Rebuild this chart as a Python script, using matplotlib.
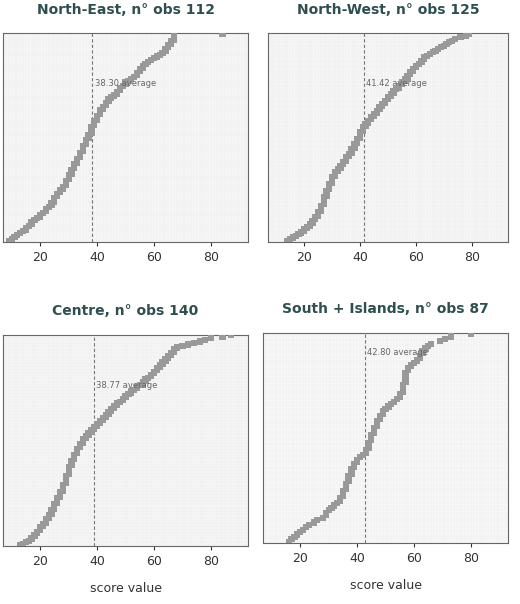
import matplotlib
matplotlib.use("Agg")
import matplotlib.pyplot as plt
import numpy as np

titles = ["North-East, n° obs 112", "North-West, n° obs 125", "Centre, n° obs 140", "South + Islands, n° obs 87"]
averages = [38.30, 41.42, 38.77, 42.80]

north_east = [9,10,11,12,13,14,15,15,16,17,17,18,19,20,20,21,22,22,23,24,
24,25,25,25,26,26,27,27,28,28,29,29,29,30,30,30,31,31,31,32,
32,32,33,33,33,34,34,34,35,35,35,35,36,36,36,37,37,37,38,38,
38,38,39,39,39,40,40,40,41,41,41,42,42,43,43,44,44,45,46,47,
47,48,48,49,50,50,51,52,53,54,54,55,55,56,56,57,58,59,60,61,
62,63,64,64,65,65,66,66,67,67,67,84]
north_west = [14,15,16,17,18,19,20,20,21,22,22,23,23,24,24,25,25,25,26,26,
26,26,27,27,27,27,27,28,28,28,28,29,29,29,29,30,30,30,30,31,
31,31,32,32,33,33,34,34,35,35,35,36,36,37,37,37,38,38,38,39,
39,39,40,40,40,40,41,41,41,42,42,43,43,44,44,45,45,46,46,47,
47,48,48,49,49,50,50,51,51,52,52,53,54,54,55,55,56,56,57,57,
58,58,59,59,60,60,61,62,62,63,63,64,65,66,67,68,69,70,71,72,
73,74,76,78,79]
centre = [13,14,15,16,17,17,18,18,19,19,20,20,20,21,21,22,22,22,23,23,
23,24,24,24,25,25,25,25,26,26,26,26,27,27,27,27,28,28,28,28,
28,29,29,29,29,29,29,30,30,30,30,30,30,31,31,31,31,32,32,32,
32,33,33,33,33,34,34,34,35,35,35,36,36,37,37,38,38,39,39,40,
40,41,41,42,42,43,43,44,44,45,45,46,46,47,47,48,49,49,50,50,
51,52,52,53,54,54,55,56,56,57,57,58,59,59,60,60,61,61,62,62,
63,63,64,64,65,65,66,66,67,67,67,68,70,72,74,76,78,80,84,87]
south = [16,17,18,19,20,21,22,23,25,26,28,29,29,30,31,32,33,34,34,35,
35,35,36,36,36,37,37,37,38,38,38,39,39,40,40,41,42,43,43,44,
44,44,45,45,45,46,46,46,47,47,47,48,48,49,49,50,51,52,53,54,
55,55,56,56,56,56,57,57,57,57,57,58,58,59,60,61,62,62,63,63,
64,65,66,69,71,73,80]
series = [north_east, north_west, centre, south]

fig = plt.figure(figsize=(5.2, 6.04), dpi=100)
boxes = [(0.006, 0.600, 0.471, 0.345), (0.515, 0.600, 0.462, 0.345),
         (0.006, 0.096, 0.471, 0.350), (0.506, 0.101, 0.471, 0.348)]
for i, (vals, title, avg, box) in enumerate(zip(series, titles, averages, boxes)):
    ax = fig.add_axes(box)
    v = np.sort(np.array(vals, dtype=float))
    n = len(v)
    ax.set_facecolor("#fafafa")
    for gx in np.arange(6, 95, 1.0):
        ax.axvline(gx, color="#ebebeb", lw=0.35, zorder=0)
    for gy in np.arange(0, n + 2, 1.0):
        ax.axhline(gy, color="#ebebeb", lw=0.35, zorder=0)
    ax.scatter(v, np.arange(1, n + 1), marker="s", s=20, color="#999999",
               edgecolors="none", zorder=3)
    ax.axvline(avg, color="#777777", lw=0.8, ls=(0, (3, 2)), zorder=2)
    ax.text(avg + 0.8, n * 0.75 if i != 3 else n * 0.9, f"{avg:.2f} average",
            fontsize=6, color="#666666", zorder=4)
    ax.set_xlim(7, 93)
    ax.set_ylim(0.5, n + 0.5)
    ax.set_yticks([])
    ax.set_xticks([20, 40, 60, 80])
    ax.tick_params(axis="x", labelsize=9, colors="#333333", length=3)
    for s in ax.spines.values():
        s.set_color("#666666")
    ax.set_title(title, fontsize=10, fontweight="bold", color="#2f4f4f", pad=14)
    if i >= 2:
        ax.set_xlabel("score value", fontsize=9, color="#333333", labelpad=10)

fig.savefig("out.png", dpi=100)
